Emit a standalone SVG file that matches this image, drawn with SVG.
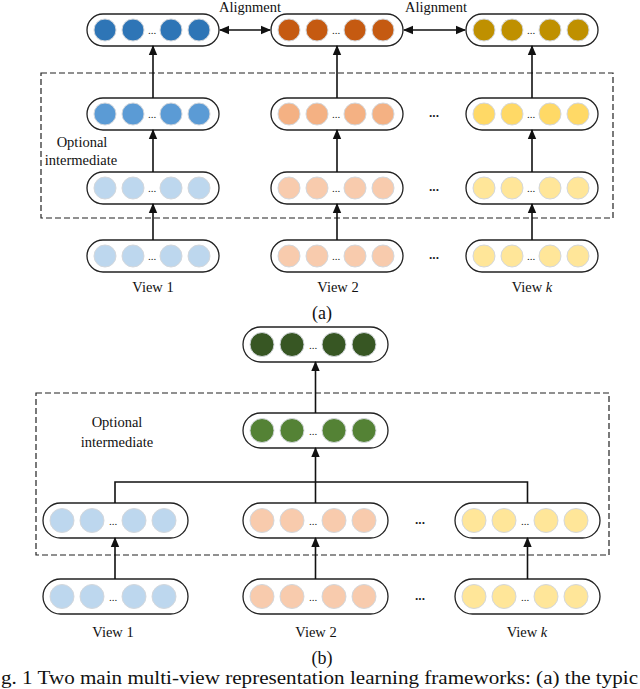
<svg xmlns="http://www.w3.org/2000/svg" width="640" height="689" viewBox="0 0 640 689">
<style>
.pill{fill:#fff;stroke:#222;stroke-width:1.3}
.c{stroke:#d3d7dc;stroke-width:1}
.dots{font-family:"Liberation Serif","Times New Roman",Times,serif;font-size:11px;fill:#222;text-anchor:middle}
.sep{font-family:"Liberation Sans",Arial,sans-serif;font-size:12px;font-weight:bold;fill:#222;text-anchor:middle}
.lbl{font-family:"Liberation Serif","Times New Roman",Times,serif;font-size:14.5px;fill:#111;text-anchor:middle}
.cap{font-family:"Liberation Serif","Times New Roman",Times,serif;font-size:18px;fill:#111;text-anchor:middle}
.box{fill:none;stroke:#222;stroke-width:1.2;stroke-dasharray:6 3}
.ln{fill:none;stroke:#111;stroke-width:1.6}
.b1{fill:#2E75B6}.b2{fill:#5B9BD5}.b3{fill:#BDD7EE}
.o1{fill:#C55A11}.o2{fill:#F4B183}.o3{fill:#F8CBAD}
.y1{fill:#BF9000}.y2{fill:#FFD966}.y3{fill:#FFE699}
.g1{fill:#375623}.g2{fill:#548235}
</style>
<defs>
<marker id="ah" markerUnits="userSpaceOnUse" markerWidth="10" markerHeight="10" viewBox="0 0 10 10" refX="9" refY="5" orient="auto-start-reverse">
<path d="M0,0.8 L10,5 L0,9.2 Z" fill="#111"/>
</marker>
</defs>

<!-- dashed regions -->
<rect class="box" x="41" y="73" width="572" height="145"/>
<rect class="box" x="36" y="393" width="573" height="162"/>

<!-- (a) nodes -->
<g id="a-top-view1"><rect class="pill" x="87" y="14" width="132" height="32" rx="16"/><circle class="c b1" cx="105" cy="30" r="11"/><circle class="c b1" cx="133" cy="30" r="11"/><circle class="c b1" cx="171" cy="30" r="11"/><circle class="c b1" cx="199" cy="30" r="11"/><text class="dots" x="152" y="34">...</text></g>
<g id="a-top-view2"><rect class="pill" x="271" y="14" width="132" height="32" rx="16"/><circle class="c o1" cx="289" cy="30" r="11"/><circle class="c o1" cx="317" cy="30" r="11"/><circle class="c o1" cx="355" cy="30" r="11"/><circle class="c o1" cx="383" cy="30" r="11"/><text class="dots" x="336" y="34">...</text></g>
<g id="a-top-viewk"><rect class="pill" x="466" y="14" width="132" height="32" rx="16"/><circle class="c y1" cx="484" cy="30" r="11"/><circle class="c y1" cx="512" cy="30" r="11"/><circle class="c y1" cx="550" cy="30" r="11"/><circle class="c y1" cx="578" cy="30" r="11"/><text class="dots" x="531" y="34">...</text></g>

<g id="a-mid2-view1"><rect class="pill" x="87" y="98" width="132" height="32" rx="16"/><circle class="c b2" cx="105" cy="114" r="11"/><circle class="c b2" cx="133" cy="114" r="11"/><circle class="c b2" cx="171" cy="114" r="11"/><circle class="c b2" cx="199" cy="114" r="11"/><text class="dots" x="152" y="118">...</text></g>
<g id="a-mid2-view2"><rect class="pill" x="271" y="98" width="132" height="32" rx="16"/><circle class="c o2" cx="289" cy="114" r="11"/><circle class="c o2" cx="317" cy="114" r="11"/><circle class="c o2" cx="355" cy="114" r="11"/><circle class="c o2" cx="383" cy="114" r="11"/><text class="dots" x="336" y="118">...</text></g>
<g id="a-mid2-viewk"><rect class="pill" x="466" y="98" width="132" height="32" rx="16"/><circle class="c y2" cx="484" cy="114" r="11"/><circle class="c y2" cx="512" cy="114" r="11"/><circle class="c y2" cx="550" cy="114" r="11"/><circle class="c y2" cx="578" cy="114" r="11"/><text class="dots" x="531" y="118">...</text></g>

<g id="a-mid1-view1"><rect class="pill" x="87" y="172" width="132" height="32" rx="16"/><circle class="c b3" cx="105" cy="188" r="11"/><circle class="c b3" cx="133" cy="188" r="11"/><circle class="c b3" cx="171" cy="188" r="11"/><circle class="c b3" cx="199" cy="188" r="11"/><text class="dots" x="152" y="192">...</text></g>
<g id="a-mid1-view2"><rect class="pill" x="271" y="172" width="132" height="32" rx="16"/><circle class="c o3" cx="289" cy="188" r="11"/><circle class="c o3" cx="317" cy="188" r="11"/><circle class="c o3" cx="355" cy="188" r="11"/><circle class="c o3" cx="383" cy="188" r="11"/><text class="dots" x="336" y="192">...</text></g>
<g id="a-mid1-viewk"><rect class="pill" x="466" y="172" width="132" height="32" rx="16"/><circle class="c y3" cx="484" cy="188" r="11"/><circle class="c y3" cx="512" cy="188" r="11"/><circle class="c y3" cx="550" cy="188" r="11"/><circle class="c y3" cx="578" cy="188" r="11"/><text class="dots" x="531" y="192">...</text></g>

<g id="a-in-view1"><rect class="pill" x="87" y="240" width="132" height="32" rx="16"/><circle class="c b3" cx="105" cy="256" r="11"/><circle class="c b3" cx="133" cy="256" r="11"/><circle class="c b3" cx="171" cy="256" r="11"/><circle class="c b3" cx="199" cy="256" r="11"/><text class="dots" x="152" y="260">...</text></g>
<g id="a-in-view2"><rect class="pill" x="271" y="240" width="132" height="32" rx="16"/><circle class="c o3" cx="289" cy="256" r="11"/><circle class="c o3" cx="317" cy="256" r="11"/><circle class="c o3" cx="355" cy="256" r="11"/><circle class="c o3" cx="383" cy="256" r="11"/><text class="dots" x="336" y="260">...</text></g>
<g id="a-in-viewk"><rect class="pill" x="466" y="240" width="132" height="32" rx="16"/><circle class="c y3" cx="484" cy="256" r="11"/><circle class="c y3" cx="512" cy="256" r="11"/><circle class="c y3" cx="550" cy="256" r="11"/><circle class="c y3" cx="578" cy="256" r="11"/><text class="dots" x="531" y="260">...</text></g>

<!-- (b) nodes -->
<g id="b-top"><rect class="pill" x="243" y="327" width="145" height="35" rx="17.5"/><circle class="c g1" cx="262" cy="344.5" r="12"/><circle class="c g1" cx="292" cy="344.5" r="12"/><circle class="c g1" cx="334" cy="344.5" r="12"/><circle class="c g1" cx="364" cy="344.5" r="12"/><text class="dots" x="313" y="349">...</text></g>
<g id="b-fused"><rect class="pill" x="243" y="413" width="145" height="35" rx="17.5"/><circle class="c g2" cx="262" cy="430.5" r="12"/><circle class="c g2" cx="292" cy="430.5" r="12"/><circle class="c g2" cx="334" cy="430.5" r="12"/><circle class="c g2" cx="364" cy="430.5" r="12"/><text class="dots" x="313" y="435">...</text></g>

<g id="b-mid-view1"><rect class="pill" x="43" y="503" width="145" height="35" rx="17.5"/><circle class="c b3" cx="62" cy="520.5" r="12"/><circle class="c b3" cx="92" cy="520.5" r="12"/><circle class="c b3" cx="134" cy="520.5" r="12"/><circle class="c b3" cx="164" cy="520.5" r="12"/><text class="dots" x="113" y="525">...</text></g>
<g id="b-mid-view2"><rect class="pill" x="243" y="503" width="145" height="35" rx="17.5"/><circle class="c o3" cx="262" cy="520.5" r="12"/><circle class="c o3" cx="292" cy="520.5" r="12"/><circle class="c o3" cx="334" cy="520.5" r="12"/><circle class="c o3" cx="364" cy="520.5" r="12"/><text class="dots" x="313" y="525">...</text></g>
<g id="b-mid-viewk"><rect class="pill" x="455" y="503" width="145" height="35" rx="17.5"/><circle class="c y3" cx="474" cy="520.5" r="12"/><circle class="c y3" cx="504" cy="520.5" r="12"/><circle class="c y3" cx="546" cy="520.5" r="12"/><circle class="c y3" cx="576" cy="520.5" r="12"/><text class="dots" x="525" y="525">...</text></g>

<g id="b-in-view1"><rect class="pill" x="43" y="579" width="145" height="35" rx="17.5"/><circle class="c b3" cx="62" cy="596.5" r="12"/><circle class="c b3" cx="92" cy="596.5" r="12"/><circle class="c b3" cx="134" cy="596.5" r="12"/><circle class="c b3" cx="164" cy="596.5" r="12"/><text class="dots" x="113" y="601">...</text></g>
<g id="b-in-view2"><rect class="pill" x="243" y="579" width="145" height="35" rx="17.5"/><circle class="c o3" cx="262" cy="596.5" r="12"/><circle class="c o3" cx="292" cy="596.5" r="12"/><circle class="c o3" cx="334" cy="596.5" r="12"/><circle class="c o3" cx="364" cy="596.5" r="12"/><text class="dots" x="313" y="601">...</text></g>
<g id="b-in-viewk"><rect class="pill" x="455" y="579" width="145" height="35" rx="17.5"/><circle class="c y3" cx="474" cy="596.5" r="12"/><circle class="c y3" cx="504" cy="596.5" r="12"/><circle class="c y3" cx="546" cy="596.5" r="12"/><circle class="c y3" cx="576" cy="596.5" r="12"/><text class="dots" x="525" y="601">...</text></g>

<!-- connectors -->
<g id="connectors">
<line class="ln" x1="220" y1="30" x2="270" y2="30" marker-start="url(#ah)" marker-end="url(#ah)"/>
<line class="ln" x1="404" y1="30" x2="465" y2="30" marker-start="url(#ah)" marker-end="url(#ah)"/>
<line class="ln" x1="153" y1="98" x2="153" y2="46" marker-end="url(#ah)"/>
<line class="ln" x1="337" y1="98" x2="337" y2="46" marker-end="url(#ah)"/>
<line class="ln" x1="532" y1="98" x2="532" y2="46" marker-end="url(#ah)"/>
<line class="ln" x1="153" y1="172" x2="153" y2="130" marker-end="url(#ah)"/>
<line class="ln" x1="337" y1="172" x2="337" y2="130" marker-end="url(#ah)"/>
<line class="ln" x1="532" y1="172" x2="532" y2="130" marker-end="url(#ah)"/>
<line class="ln" x1="153" y1="240" x2="153" y2="204" marker-end="url(#ah)"/>
<line class="ln" x1="337" y1="240" x2="337" y2="204" marker-end="url(#ah)"/>
<line class="ln" x1="532" y1="240" x2="532" y2="204" marker-end="url(#ah)"/>
<line class="ln" x1="315.5" y1="413" x2="315.5" y2="362" marker-end="url(#ah)"/>
<line class="ln" x1="315.5" y1="482" x2="315.5" y2="448" marker-end="url(#ah)"/>
<polyline class="ln" points="115,503 115,482 527.5,482 527.5,503"/>
<line class="ln" x1="315.5" y1="503" x2="315.5" y2="482"/>
<line class="ln" x1="115" y1="579" x2="115" y2="538" marker-end="url(#ah)"/>
<line class="ln" x1="315.5" y1="579" x2="315.5" y2="538" marker-end="url(#ah)"/>
<line class="ln" x1="527.5" y1="579" x2="527.5" y2="538" marker-end="url(#ah)"/>
</g>

<!-- labels -->
<text class="lbl" x="250" y="12" font-size="14">Alignment</text>
<text class="lbl" x="436" y="12" font-size="14">Alignment</text>
<text class="sep" x="434" y="117">...</text>
<text class="sep" x="434" y="191">...</text>
<text class="sep" x="434" y="259">...</text>
<text class="sep" x="420" y="524">...</text>
<text class="sep" x="420" y="600">...</text>
<text class="lbl" x="82" y="147">Optional</text>
<text class="lbl" x="81" y="165">intermediate</text>
<text class="lbl" x="117" y="427" font-size="15.5">Optional</text>
<text class="lbl" x="117" y="447" font-size="15.5">intermediate</text>
<text class="lbl" x="153" y="292">View 1</text>
<text class="lbl" x="338" y="292">View 2</text>
<text class="lbl" x="532" y="292">View <tspan font-style="italic">k</tspan></text>
<text class="lbl" x="113" y="637">View 1</text>
<text class="lbl" x="316" y="637">View 2</text>
<text class="lbl" x="527" y="637">View <tspan font-style="italic">k</tspan></text>
<text class="cap" x="322" y="319">(a)</text>
<text class="cap" x="322" y="664">(b)</text>
<text x="1" y="684" font-family="Liberation Serif, Times New Roman, serif" font-size="18" fill="#111" textLength="637" lengthAdjust="spacingAndGlyphs">g. 1 Two main multi-view representation learning frameworks: (a) the typic</text>
</svg>
